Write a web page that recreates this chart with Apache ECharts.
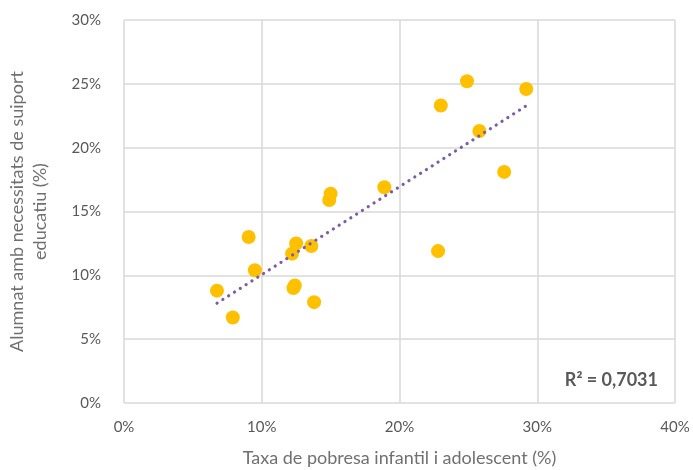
<!DOCTYPE html>
<html>
<head>
<meta charset="utf-8">
<script src="https://cdn.jsdelivr.net/npm/echarts@6/dist/echarts.min.js"></script>
<style>
html,body{margin:0;padding:0;background:#fff;}
#c{width:693px;height:470px;}
</style>
</head>
<body>
<div id="c"></div>
<script>
// Taxa de pobresa infantil i adolescent (%)
var povertyRate = [6.75, 7.9, 9.05, 9.5, 12.2, 12.5, 12.3, 12.4, 13.6, 13.8, 15.0, 14.9, 18.9, 22.8, 23.0, 24.9, 25.8, 27.6, 29.2];
// Alumnat amb necessitats de suport educatiu (%)
var supportNeeds = [8.8, 6.7, 13.0, 10.4, 11.7, 12.5, 9.0, 9.2, 12.3, 7.9, 16.4, 15.9, 16.9, 11.9, 23.3, 25.2, 21.3, 18.1, 24.6];
var xTicks = [0, 10, 20, 30, 40];
var yTicks = [0, 5, 10, 15, 20, 25, 30];
var r2Label = 'R² = 0,7031';
var xTitle = 'Taxa de pobresa infantil i adolescent (%)';
var yTitle = 'Alumnat amb necessitats de suiport\neducatiu (%)';

var points = povertyRate.map(function (x, i) { return [x, supportNeeds[i]]; });

// linear least-squares trendline from data
var n = points.length, sx = 0, sy = 0, sxx = 0, sxy = 0;
points.forEach(function (p) { sx += p[0]; sy += p[1]; sxx += p[0] * p[0]; sxy += p[0] * p[1]; });
var slope = (n * sxy - sx * sy) / (n * sxx - sx * sx);
var intercept = (sy - slope * sx) / n;
var xmin = Math.min.apply(null, povertyRate), xmax = Math.max.apply(null, povertyRate);
var trend = [[xmin, intercept + slope * xmin], [xmax, intercept + slope * xmax]];

var chart = echarts.init(document.getElementById('c'));
var gridColor = '#d9d9d9';
chart.setOption({
  animation: false,
  backgroundColor: '#ffffff',
  textStyle: { fontFamily: 'Lato' },
  grid: { left: 124, right: 18, top: 20, bottom: 67, containLabel: false, outerBoundsMode: 'none' },
  xAxis: {
    type: 'value', min: xTicks[0], max: xTicks[xTicks.length - 1], interval: 10,
    name: xTitle, nameLocation: 'middle', nameGap: 46,
    nameTextStyle: { fontFamily: 'Lato', fontSize: 18, color: '#707070' },
    axisLine: { show: false }, axisTick: { show: false },
    axisLabel: { formatter: '{value}%', fontFamily: 'Lato', fontSize: 15, color: '#595959', margin: 17 },
    splitLine: { show: true, lineStyle: { color: gridColor, width: 1.5 } }
  },
  yAxis: {
    type: 'value', min: yTicks[0], max: yTicks[yTicks.length - 1], interval: 5,
    name: yTitle, nameLocation: 'middle', nameGap: 72,
    nameTextStyle: { fontFamily: 'Lato', fontSize: 18, color: '#707070', lineHeight: 23 },
    axisLine: { show: false }, axisTick: { show: false },
    axisLabel: { formatter: '{value}%', fontFamily: 'Lato', fontSize: 15, color: '#595959', margin: 23 },
    splitLine: { show: true, lineStyle: { color: gridColor, width: 1.5 } }
  },
  series: [
    {
      type: 'scatter', data: points, symbolSize: 14,
      itemStyle: { color: '#FFC000', opacity: 1 }, z: 3
    },
    {
      type: 'line', data: trend, symbol: 'none', silent: true,
      lineStyle: { color: '#7B5EA6', width: 3.2, type: [0.1, 6.8], cap: 'round' }, z: 4
    }
  ],
  graphic: [{
    type: 'text', right: 35, top: 371,
    style: { text: r2Label, fontFamily: 'Lato', fontWeight: 'bold', fontSize: 18, fill: '#595959' }
  }]
});
</script>
</body>
</html>
